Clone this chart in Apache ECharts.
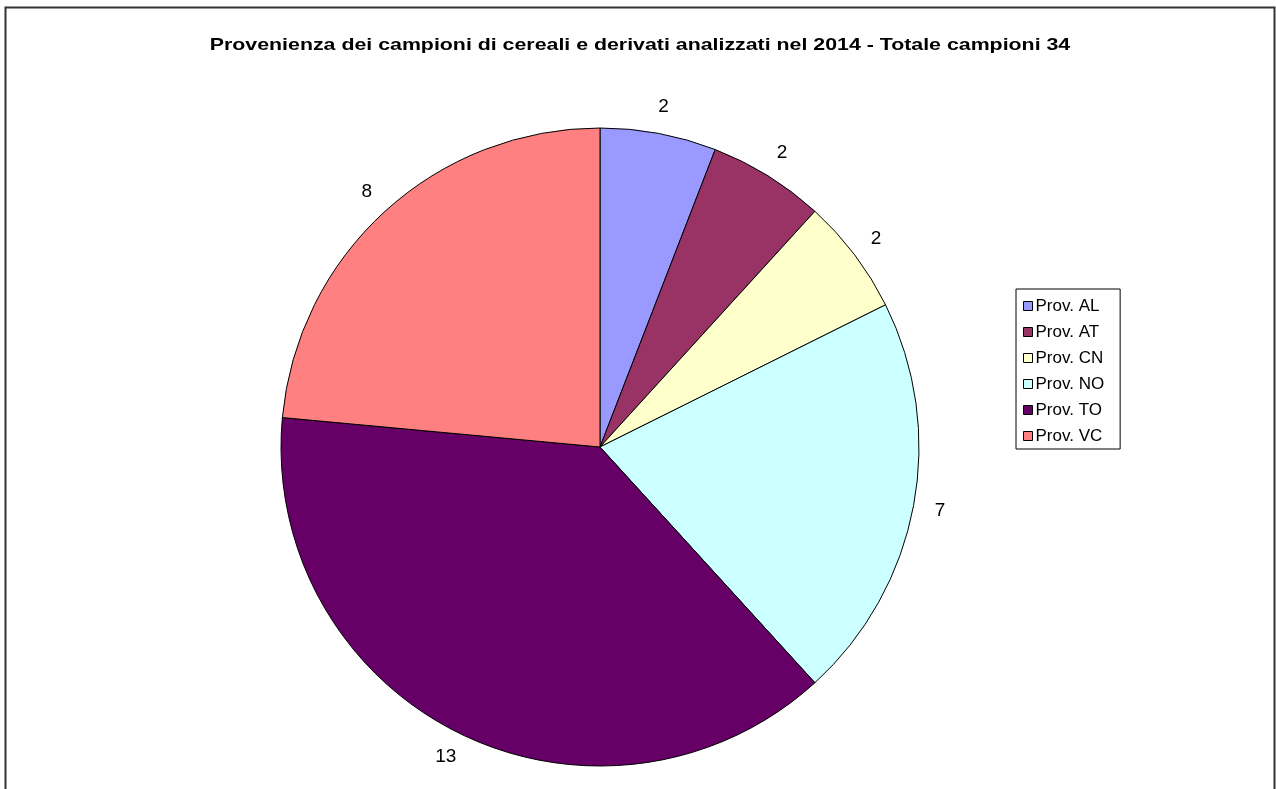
<!DOCTYPE html>
<html>
<head>
<meta charset="utf-8">
<style>
  html, body { margin: 0; padding: 0; background: #fff; }
  #chart { width: 1276px; height: 789px; }
</style>
<script src="https://cdn.jsdelivr.net/npm/echarts@6/dist/echarts.min.js"></script>
</head>
<body>
<div id="chart"></div>
<script>
// Campioni per provincia
const provinces = ['Prov. AL', 'Prov. AT', 'Prov. CN', 'Prov. NO', 'Prov. TO', 'Prov. VC'];
const samples = [2, 2, 2, 7, 13, 8];
const sliceColors = ['#9999FF', '#993366', '#FFFFCC', '#CCFFFF', '#660066', '#FF8080'];
const titleText = 'Provenienza dei campioni di cereali e derivati analizzati nel 2014 - Totale campioni 34';

const FONT = 'Liberation Sans, Arial, sans-serif';
const chart = echarts.init(document.getElementById('chart'), null, { renderer: 'canvas' });

const pieData = provinces.map((name, i) => ({
  name: name,
  value: samples[i],
  itemStyle: { color: sliceColors[i] }
}));

chart.setOption({
  animation: false,
  backgroundColor: '#ffffff',
  graphic: [
    {
      // outer frame
      type: 'rect',
      shape: { x: 5.5, y: 7.5, width: 1269, height: 800 },
      style: { fill: 'none', stroke: '#333', lineWidth: 2 },
      silent: true,
      z: -1
    },
    {
      // wide bold title
      type: 'text',
      x: 640,
      y: 45,
      scaleX: 1.255,
      silent: true,
      style: {
        text: titleText,
        align: 'center',
        verticalAlign: 'middle',
        fontFamily: FONT,
        fontSize: 17,
        fontWeight: 'bold',
        fill: '#000'
      }
    }
  ],
  legend: {
    orient: 'vertical',
    left: 1016,
    top: 289,
    padding: [8, 16, 4, 7],
    backgroundColor: '#fff',
    borderColor: '#000',
    borderWidth: 1,
    borderRadius: 0,
    itemWidth: 9,
    itemHeight: 9,
    itemGap: 8,
    icon: 'rect',
    itemStyle: { borderColor: '#000', borderWidth: 1 },
    textStyle: {
      fontFamily: FONT,
      fontSize: 17,
      lineHeight: 18,
      color: '#000',
      padding: [0, 0, 0, -2]
    },
    data: provinces
  },
  series: [{
    type: 'pie',
    center: [600, 447],
    radius: 319,
    startAngle: 90,
    clockwise: true,
    avoidLabelOverlap: false,
    itemStyle: { borderColor: '#000', borderWidth: 1 },
    emphasis: { disabled: true },
    label: {
      show: true,
      position: 'outside',
      formatter: '{c}',
      fontFamily: FONT,
      fontSize: 19,
      color: '#000',
      distanceToLabelLine: 0
    },
    labelLine: { show: false, length: 27, length2: 0 },
    labelLayout: { align: 'center', verticalAlign: 'middle' },
    data: pieData
  }]
});
</script>
</body>
</html>
